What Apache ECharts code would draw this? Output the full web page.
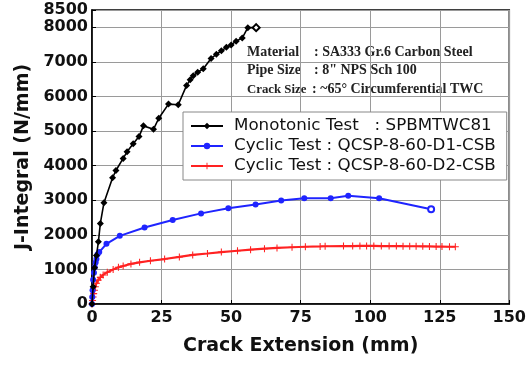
<!DOCTYPE html>
<html>
<head>
<meta charset="utf-8">
<script src="https://cdn.jsdelivr.net/npm/echarts@6/dist/echarts.min.js"></script>
<style>
  html, body { margin: 0; padding: 0; background: #fff; }
  #chart { width: 529px; height: 367px; }
</style>
</head>
<body>
<div id="chart"></div>
<script>
// Crack extension (mm) vs. J-integral (N/mm) for three pipe tests
const monotonicData = [
  [0, 0], [0.4, 500], [0.9, 1050], [1.6, 1400], [2.3, 1800], [3.0, 2330],
  [4.3, 2930], [7.4, 3650], [8.6, 3860], [11.2, 4210], [12.6, 4400],
  [14.8, 4630], [16.9, 4840], [18.5, 5150], [22.1, 5050], [24.0, 5370],
  [27.5, 5780], [31.0, 5760], [34.0, 6320], [35.3, 6480], [36.4, 6600],
  [38.0, 6700], [40.0, 6800], [42.8, 7100], [44.7, 7220], [46.5, 7320],
  [48.3, 7420], [50.0, 7490], [51.8, 7600], [54.0, 7690], [56.0, 7990],
  [59.0, 7990]
];
const cyclicD1Data = [
  [0, 0], [0.1, 200], [0.2, 400], [0.4, 700], [0.7, 900], [1.0, 1060],
  [1.3, 1200], [1.6, 1300], [2.0, 1440], [2.6, 1500], [5.2, 1740],
  [10.0, 1970], [18.9, 2210], [29.0, 2430], [39.2, 2620], [49.0, 2770],
  [58.8, 2880], [68.0, 2990], [76.3, 3060], [85.8, 3060], [92.1, 3130],
  [103.2, 3060], [121.9, 2740]
];
const cyclicD2Data = [
  [0, 0], [0.2, 100], [0.4, 200], [0.6, 300], [0.9, 400], [1.2, 500],
  [1.6, 600], [2.2, 690], [3.0, 770], [4.0, 840], [5.5, 920], [7.6, 1000],
  [9.5, 1060], [11.2, 1100], [14.0, 1160], [17.1, 1205], [21.0, 1250],
  [26.1, 1300], [31.4, 1360], [36.2, 1420], [41.5, 1460], [46.5, 1500],
  [52.3, 1540], [57.0, 1570], [62.0, 1600], [66.5, 1620], [71.9, 1640],
  [76.7, 1655], [82.0, 1665], [83.8, 1670], [90.4, 1675], [93.7, 1675],
  [96.3, 1678], [98.7, 1678], [101.3, 1678], [104.0, 1675], [106.8, 1675],
  [109.4, 1675], [111.8, 1672], [114.2, 1670], [116.5, 1670], [118.9, 1668],
  [121.3, 1665], [123.7, 1660], [125.8, 1660], [128.5, 1655], [130.6, 1655]
];
const seriesNames = [
  'Monotonic Test   : SPBMTWC81',
  'Cyclic Test : QCSP-8-60-D1-CSB',
  'Cyclic Test : QCSP-8-60-D2-CSB'
];
const specLabels = ['Material', 'Pipe Size', 'Crack Size'];
const specValues = [': SA333 Gr.6 Carbon Steel', ': 8" NPS Sch 100', ': ~65\u00b0 Circumferential TWC'];

const xMin = 0, xMax = 150, xStep = 25;
const yMin = 0, yMax = 8500, yStep = 1000;

const axisFont = 'DejaVu Sans';
const plusSymbol = 'path://M0,3.4H8V4.6H0Z M3.4,0H4.6V8H3.4Z';

// last marker of each measured curve is drawn hollow
function markLast(data, symbol) {
  return data.map((p, i) => i === data.length - 1 ? { value: p, symbol: symbol } : p);
}

const chart = echarts.init(document.getElementById('chart'), null, { renderer: 'canvas' });

const specFont = 'bold 14px "Liberation Serif"';
const specLabelFonts = [specFont, specFont, 'bold 12.8px "Liberation Serif"'];
const specText = [];
const specY = [45, 63, 82];
const specValueX = [314, 314, 312];
specLabels.forEach((t, i) => {
  specText.push({
    type: 'text', left: 247, top: specY[i] + (i === 2 ? 1 : 0),
    style: { text: t, font: specLabelFonts[i], fill: '#222' }
  });
  specText.push({
    type: 'text', left: specValueX[i], top: specY[i],
    style: { text: specValues[i], font: specFont, fill: '#222' }
  });
});

chart.setOption({
  animation: false,
  backgroundColor: '#fff',
  grid: {
    left: 92, right: 17, top: 10, bottom: 63,
    show: true, borderColor: '#000', borderWidth: 1.5, backgroundColor: 'transparent'
  },
  xAxis: {
    type: 'value', min: xMin, max: xMax, interval: xStep,
    name: 'Crack Extension (mm)', nameLocation: 'middle', nameGap: 33,
    nameTextStyle: { fontFamily: axisFont, fontWeight: 'bold', fontSize: 19, color: '#111' },
    axisLine: { show: true, onZero: false, lineStyle: { color: '#000', width: 1.5 } },
    axisTick: { show: true, inside: true, length: 4, lineStyle: { color: '#000' } },
    axisLabel: { fontFamily: axisFont, fontWeight: 'bold', fontSize: 16, color: '#111', margin: 6,
      formatter: v => String(v) },
    splitLine: { show: true, lineStyle: { color: '#9a9a9a', width: 1 } }
  },
  yAxis: {
    type: 'value', min: yMin, max: yMax, interval: yStep,
    name: 'J-Integral (N/mm)', nameLocation: 'middle', nameGap: 56,
    nameTextStyle: { fontFamily: axisFont, fontWeight: 'bold', fontSize: 19, color: '#111' },
    axisLine: { show: true, onZero: false, lineStyle: { color: '#000', width: 1.5 } },
    axisTick: { show: true, inside: true, length: 4, lineStyle: { color: '#000' } },
    axisLabel: { fontFamily: axisFont, fontWeight: 'bold', fontSize: 16, color: '#111', margin: 4,
      formatter: v => String(v) },
    splitLine: { show: true, lineStyle: { color: '#9a9a9a', width: 1 } }
  },
  legend: {
    orient: 'vertical', left: 183, top: 112,
    padding: [4, 11, 4, 7], itemGap: 0, itemWidth: 32, itemHeight: 8,
    backgroundColor: '#fff', borderColor: '#888', borderWidth: 1,
    textStyle: { fontFamily: axisFont, fontSize: 16.7, color: '#111', lineHeight: 20, padding: [0, 0, 0, 6] },
    data: seriesNames
  },
  series: [
    {
      name: seriesNames[0], type: 'line', data: markLast(monotonicData, 'emptyDiamond'),
      symbol: 'diamond', symbolSize: 7, showAllSymbol: true,
      lineStyle: { color: '#000', width: 1.6 }, itemStyle: { color: '#000' },
      z: 4
    },
    {
      name: seriesNames[1], type: 'line', data: markLast(cyclicD1Data, 'emptyCircle'),
      symbol: 'circle', symbolSize: 6, showAllSymbol: true,
      lineStyle: { color: '#1f24ff', width: 2 }, itemStyle: { color: '#1f24ff' },
      z: 3
    },
    {
      name: seriesNames[2], type: 'line', data: cyclicD2Data,
      symbol: plusSymbol, symbolSize: 7, showAllSymbol: true,
      lineStyle: { color: '#ff2222', width: 2.2 }, itemStyle: { color: '#ff2222' },
      z: 2
    }
  ],
  graphic: specText
});
</script>
</body>
</html>
